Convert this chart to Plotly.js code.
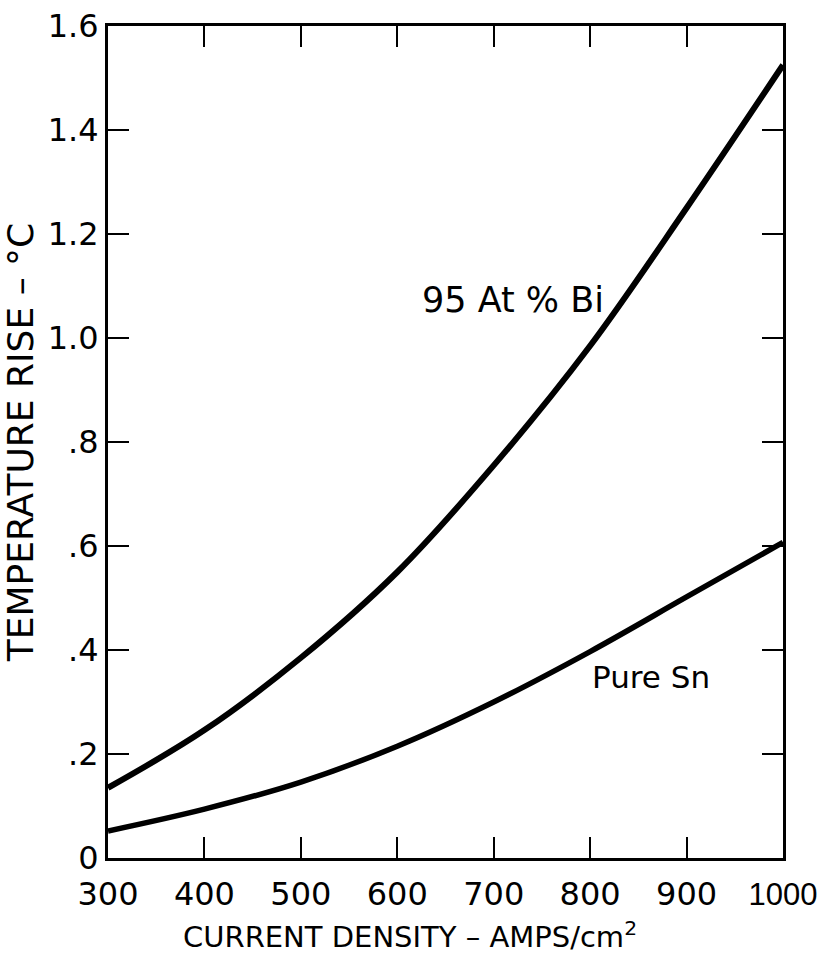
<!DOCTYPE html>
<html>
<head>
<meta charset="utf-8">
<script src="https://cdn.plot.ly/plotly-3.0.1.min.js"></script>
<style>html,body{margin:0;padding:0;background:#fff;}#chart{width:818px;height:962px;}</style>
</head>
<body>
<div id="chart"></div>
<script>
// Data
const currentDensity = [300, 400, 500, 600, 700, 800, 900, 1000];
const bi95 = [0.135, 0.246, 0.385, 0.550, 0.755, 0.985, 1.250, 1.525];
const pureSn = [0.052, 0.094, 0.146, 0.215, 0.300, 0.397, 0.502, 0.607];
const xTickVals = [300, 400, 500, 600, 700, 800, 900, 1000];
const xTickText = ["300", "400", "500", "600", "700", "800", "900", "1000"];
const yTickVals = [0, 0.2, 0.4, 0.6, 0.8, 1.0, 1.2, 1.4, 1.6];
const yTickText = ["0", ".2", ".4", ".6", ".8", "1.0", "1.2", "1.4", "1.6"];

const FONT = "DejaVu Sans, Liberation Sans, sans-serif";

// last x label is drawn in a narrower face so it fits inside the page, as in the reference
const xTickTextShown = xTickText.map((t, i) => i === xTickText.length - 1
  ? "<span style=\"font-family:Liberation Sans;font-size:31px\">" + t + "</span>" : t);

const traces = [
  {x: currentDensity, y: bi95, mode: "lines", name: "95 At % Bi",
   line: {color: "#000", width: 6, shape: "spline", smoothing: 1}},
  {x: currentDensity, y: pureSn, mode: "lines", name: "Pure Sn",
   line: {color: "#000", width: 5.5, shape: "spline", smoothing: 1}}
];

const axisCommon = {
  showgrid: false, zeroline: false, showline: true, linecolor: "#000", linewidth: 3,
  mirror: "ticks", ticks: "inside", ticklen: 21, tickwidth: 2, tickcolor: "#000",
  ticklabeloverflow: "allow",
  tickfont: {family: FONT, size: 32, color: "#000"}
};

const layout = {
  width: 818, height: 962,
  margin: {l: 108, r: 35, t: 26, b: 104},
  paper_bgcolor: "#fff", plot_bgcolor: "#fff",
  showlegend: false,
  font: {family: FONT, color: "#000"},
  xaxis: Object.assign({}, axisCommon, {
    range: [300, 1000], tickmode: "array", tickvals: xTickVals, ticktext: xTickTextShown,
    ticklabelstandoff: 6
  }),
  yaxis: Object.assign({}, axisCommon, {
    range: [0, 1.6], tickmode: "array", tickvals: yTickVals, ticktext: yTickText,
    title: {text: "TEMPERATURE RISE – °C", font: {family: FONT, size: 36, color: "#000"}, standoff: 4}
  }),
  annotations: [
    {x: 0.447, y: -0.0925, xref: "paper", yref: "paper", text: "CURRENT DENSITY – AMPS/cm<sup>2</sup>",
     showarrow: false, xanchor: "center", yanchor: "middle",
     font: {family: FONT, size: 29, color: "#000"}},
    {x: 720, y: 1.073, xref: "x", yref: "y", text: "95 At % Bi", showarrow: false,
     xanchor: "center", font: {family: FONT, size: 35, color: "#000"}},
    {x: 863, y: 0.348, xref: "x", yref: "y", text: "Pure Sn", showarrow: false,
     xanchor: "center", font: {family: FONT, size: 31, color: "#000"}}
  ]
};

Plotly.newPlot("chart", traces, layout, {displayModeBar: false, staticPlot: true});
</script>
</body>
</html>
